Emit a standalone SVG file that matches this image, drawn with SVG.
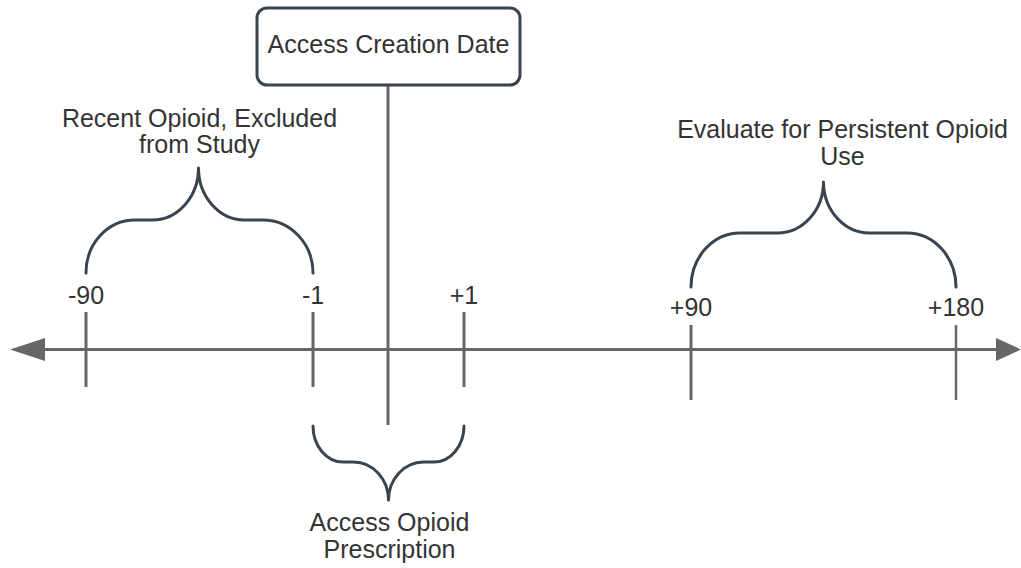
<svg xmlns="http://www.w3.org/2000/svg" width="1021" height="568" viewBox="0 0 1021 568">
  <style>
    .txt { font-family: "Liberation Sans", Arial, sans-serif; font-size: 25px; fill: #333333; text-anchor: middle; }
    .axis { stroke: #666666; stroke-width: 3; fill: none; }
    .tick { stroke: #666666; stroke-width: 3; fill: none; }
    .brace { stroke: #3a4450; stroke-width: 3; fill: none; stroke-linecap: round; stroke-linejoin: round; }
    .head { fill: #666666; }
    .box { fill: #ffffff; stroke: #3a4450; stroke-width: 3; }
  </style>

  <!-- timeline axis with arrowheads at both ends -->
  <g id="connectors">
    <line class="axis" x1="44" y1="349.5" x2="997" y2="349.5"/>
    <polygon class="head" points="10,349.5 45,338 45,361"/>
    <polygon class="head" points="1021,349.5 996,338 996,361"/>
    <!-- drop line from the creation date box -->
    <line class="axis" x1="388" y1="84" x2="388" y2="425"/>
  </g>

  <!-- day markers -->
  <g id="tick-minus90">
    <line class="tick" x1="86" y1="312" x2="86" y2="387"/>
    <text class="txt" x="86" y="304">-90</text>
  </g>
  <g id="tick-minus1">
    <line class="tick" x1="313" y1="312" x2="313" y2="387"/>
    <text class="txt" x="313" y="304">-1</text>
  </g>
  <g id="tick-plus1">
    <line class="tick" x1="464" y1="312" x2="464" y2="387"/>
    <text class="txt" x="464" y="304">+1</text>
  </g>
  <g id="tick-plus90">
    <line class="tick" x1="691" y1="325" x2="691" y2="400"/>
    <text class="txt" x="691" y="316">+90</text>
  </g>
  <g id="tick-plus180">
    <line class="tick" x1="956" y1="325" x2="956" y2="400" style="stroke-width:2.5"/>
    <text class="txt" x="956" y="316">+180</text>
  </g>

  <!-- access creation date box -->
  <g id="creation-date">
    <rect class="box" x="257" y="8" width="263" height="77" rx="10" ry="10"/>
    <text class="txt" x="388.5" y="53">Access Creation Date</text>
  </g>

  <!-- exclusion window -->
  <g id="recent-opioid">
    <path class="brace" d="M86,273 C86,243.8 107.5,220 135,220 L152.5,220 C177.8,220 198.5,196.6 198.5,168 C198.5,196.6 219.2,220 244.5,220 L263,220 C290.5,220 313,243.8 313,273"/>
    <text class="txt" x="199.5" y="127">Recent Opioid, Excluded</text>
    <text class="txt" x="199.5" y="153">from Study</text>
  </g>

  <!-- index prescription window -->
  <g id="access-opioid">
    <path class="brace" d="M313,426 C313,445.8 326.5,462 343,462 L353.5,462 C372.8,462 388.5,479.1 388.5,500 C388.5,479.1 404.2,462 423.5,462 L434,462 C450.5,462 464,445.8 464,426"/>
    <text class="txt" x="389.5" y="531">Access Opioid</text>
    <text class="txt" x="389.5" y="558">Prescription</text>
  </g>

  <!-- follow-up window -->
  <g id="persistent-use">
    <path class="brace" d="M691,287 C691,257.3 713,233 740,233 L777.5,233 C802.8,233 823.5,210 823.5,182 C823.5,210 844.2,233 869.5,233 L907,233 C934,233 956,257.3 956,287"/>
    <text class="txt" x="842.5" y="138">Evaluate for Persistent Opioid</text>
    <text class="txt" x="842.5" y="165">Use</text>
  </g>
</svg>
